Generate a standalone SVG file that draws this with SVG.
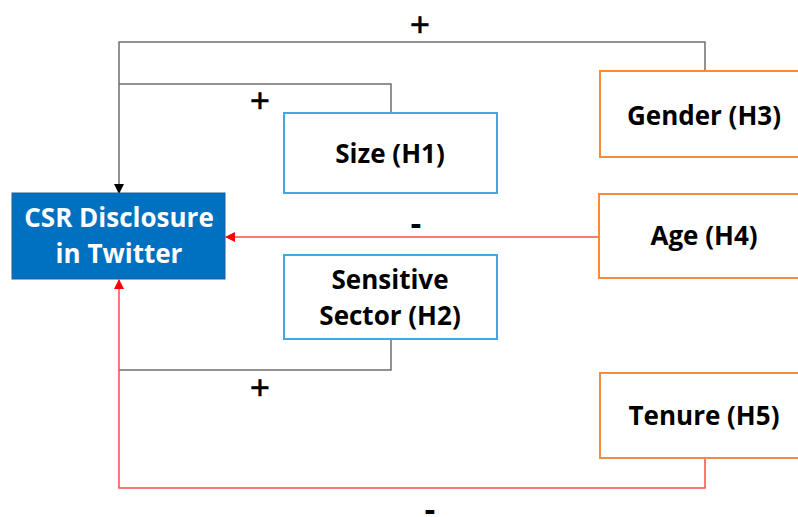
<svg xmlns="http://www.w3.org/2000/svg" width="798" height="517" viewBox="0 0 798 517">
<defs>
<style>
.lbl{font-family:"Open Sans","Liberation Sans",sans-serif;font-weight:700;font-size:26px;fill:#000;text-anchor:middle}
.w{fill:#fff}
.sign{font-family:"Liberation Sans",Arial,sans-serif;font-size:34px;fill:#000;text-anchor:middle;stroke:#000;stroke-width:0.6}
.dash{font-family:"Liberation Sans",Arial,sans-serif;font-weight:700;font-size:34px;fill:#000;text-anchor:middle}
.blue{fill:#fff;stroke:#41A8E1;stroke-width:2}
.orange{fill:#fff;stroke:#F58B3C;stroke-width:2}
.gray{fill:none;stroke:#6E6E6E;stroke-width:1.5}
.red{fill:none;stroke:#FF4A4A;stroke-width:1.5}
</style>
<marker id="ak" markerWidth="10" markerHeight="10" refX="9" refY="5" orient="auto" markerUnits="userSpaceOnUse"><path d="M0,0 L10,5 L0,10 Z" fill="#000"/></marker>
<marker id="ar" markerWidth="10" markerHeight="10" refX="9" refY="5" orient="auto" markerUnits="userSpaceOnUse"><path d="M0,0 L10,5 L0,10 Z" fill="#FF0000"/></marker>
</defs>
<rect width="798" height="517" fill="#fff"/>
<g id="connectors">
<polyline class="gray" points="705,71 705,42 119,42 119,193" marker-end="url(#ak)"/>
<polyline class="gray" points="391,113 391,84 119,84"/>
<polyline class="gray" points="391,339 391,370 119,370"/>
<line class="red" x1="599" y1="237" x2="226" y2="237" marker-end="url(#ar)"/>
<polyline class="red" points="705,458 705,488 119,488 119,280" marker-end="url(#ar)"/>
<text class="sign" x="420" y="36">+</text>
<text class="sign" x="260" y="112">+</text>
<text class="sign" x="260" y="399">+</text>
<text class="dash" x="416" y="235">-</text>
<text class="dash" x="430" y="521">-</text>
</g>
<g id="csr">
<rect x="12" y="193" width="213" height="86" fill="#0070C0" stroke="#1F5F9A" stroke-width="1"/>
<text class="lbl w" x="119" y="227">CSR Disclosure</text>
<text class="lbl w" x="119" y="263">in Twitter</text>
</g>
<g id="size">
<rect class="blue" x="284" y="113" width="213" height="80"/>
<text class="lbl" x="390" y="163">Size (H1)</text>
</g>
<g id="sector">
<rect class="blue" x="284" y="255" width="213" height="84"/>
<text class="lbl" x="390" y="289">Sensitive</text>
<text class="lbl" x="390" y="325">Sector (H2)</text>
</g>
<g id="gender">
<rect class="orange" x="600" y="71" width="210" height="86"/>
<text class="lbl" x="704" y="125">Gender (H3)</text>
</g>
<g id="age">
<rect class="orange" x="599" y="194" width="210" height="84"/>
<text class="lbl" x="704" y="245">Age (H4)</text>
</g>
<g id="tenure">
<rect class="orange" x="600" y="373" width="210" height="85"/>
<text class="lbl" x="704" y="425">Tenure (H5)</text>
</g>
</svg>
